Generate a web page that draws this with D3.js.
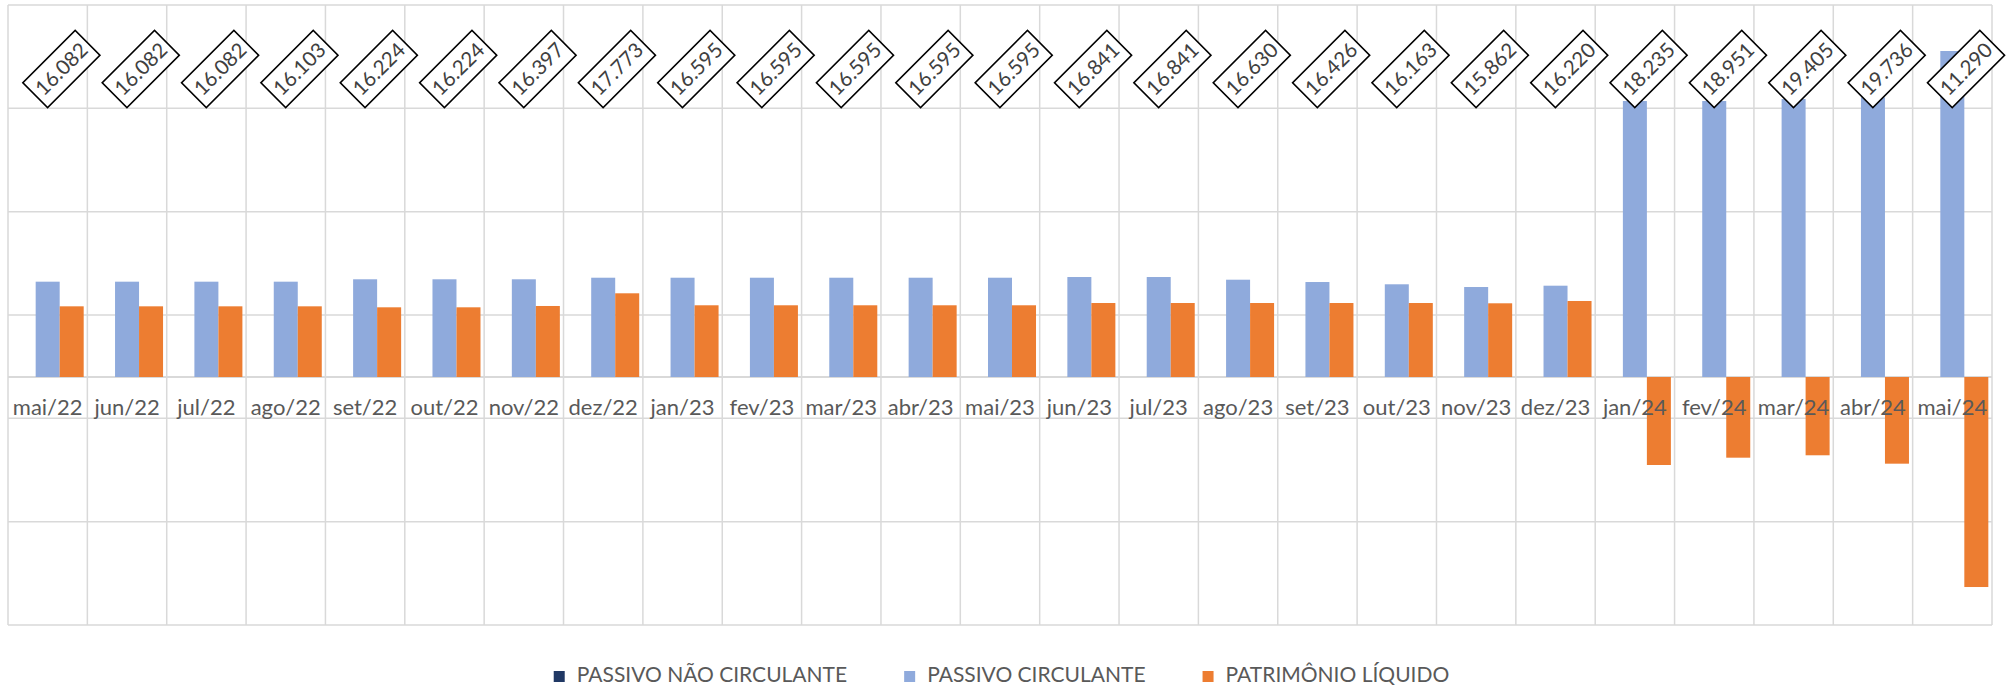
<!DOCTYPE html>
<html><head><meta charset="utf-8">
<script src="https://cdn.jsdelivr.net/npm/d3@7"></script>
<style>html,body{margin:0;padding:0;background:#fff;overflow:hidden}</style>
</head><body><svg id="c" width="2006" height="693"></svg>
<script>
const categories = ["mai/22","jun/22","jul/22","ago/22","set/22","out/22","nov/22","dez/22",
  "jan/23","fev/23","mar/23","abr/23","mai/23","jun/23","jul/23","ago/23","set/23","out/23","nov/23","dez/23",
  "jan/24","fev/24","mar/24","abr/24","mai/24"];
const seriesNames = ["PASSIVO NÃO CIRCULANTE","PASSIVO CIRCULANTE","PATRIMÔNIO LÍQUIDO"];
const seriesColors = ["#203864","#8FAADC","#ED7D31"];
const passivoNaoCirculante = [16082,16082,16082,16103,16224,16224,16397,17773,
  16595,16595,16595,16595,16595,16841,16841,16630,16426,16163,15862,16220,
  18235,18951,19405,19736,11290];
const passivoCirculante = [2306,2306,2306,2306,2364,2364,2364,2402,
  2402,2402,2402,2402,2402,2419,2419,2354,2298,2243,2177,2209,
  6677,6677,6726,6767,7887];
const patrimonioLiquido = [1710,1710,1710,1710,1686,1686,1718,2025,
  1735,1735,1735,1735,1735,1790,1790,1790,1790,1790,1783,1839,
  -2129,-1952,-1894,-2097,-5081];
const gridTicks = [-10000,-5000,0,5000,10000,15000,20000];

const W = 2006, H = 693;
const plot = {left: 8, right: 1992, top: 5, bottom: 625};
const FONT = "Lato, 'Open Sans', sans-serif";
const TEXT = "#595959", GRID = "#d9d9d9";

const svg = d3.select("#c");
svg.append("rect").attr("width", W).attr("height", H).attr("fill", "#fff");

const x = d3.scaleBand().domain(categories).range([plot.left, plot.right]).padding(0);
const xs = d3.scaleBand().domain(seriesNames).range([0, x.bandwidth()]).paddingInner(0).paddingOuter(0.153);
const yGrid = d3.scaleLinear().domain([-10000, 20000]).range([plot.bottom, plot.top]);
const y = d3.scaleLinear().domain([-6000, 9000]).range([plot.bottom, plot.top]);

// horizontal gridlines
svg.append("g").selectAll("line").data(gridTicks).join("line")
  .attr("x1", plot.left).attr("x2", plot.right)
  .attr("y1", d => yGrid(d)).attr("y2", d => yGrid(d))
  .attr("stroke", GRID).attr("stroke-width", 1.5);

// vertical gridlines (category boundaries)
const bounds = categories.map(c => x(c)).concat([plot.right]);
svg.append("g").selectAll("line").data(bounds).join("line")
  .attr("x1", d => d).attr("x2", d => d)
  .attr("y1", plot.top).attr("y2", plot.bottom)
  .attr("stroke", GRID).attr("stroke-width", 1.5);

// category axis line
svg.append("line").attr("x1", plot.left).attr("x2", plot.right)
  .attr("y1", y(0)).attr("y2", y(0)).attr("stroke", GRID).attr("stroke-width", 2);

// bars
const barSeries = [
  {name: seriesNames[1], color: seriesColors[1], values: passivoCirculante},
  {name: seriesNames[2], color: seriesColors[2], values: patrimonioLiquido}
];
barSeries.forEach(s => {
  svg.append("g").selectAll("rect").data(s.values).join("rect")
    .attr("x", (d, i) => x(categories[i]) + xs(s.name))
    .attr("width", xs.bandwidth())
    .attr("y", d => Math.min(y(d), y(0)))
    .attr("height", d => Math.abs(y(d) - y(0)))
    .attr("fill", s.color);
});

// category labels
svg.append("g").selectAll("text").data(categories).join("text")
  .attr("x", d => x(d) + x.bandwidth() / 2)
  .attr("y", y(0) + 38)
  .attr("text-anchor", "middle")
  .attr("font-family", FONT).attr("font-size", 22).attr("fill", TEXT)
  .text(d => d);

// data labels of PASSIVO NÃO CIRCULANTE
const br = d3.formatLocale({decimal: ",", thousands: ".", grouping: [3], currency: ["R$", ""]});
const fmt = br.format(",d");
const lab = svg.append("g").selectAll("g").data(passivoNaoCirculante).join("g")
  .attr("transform", (d, i) => `translate(${x(categories[i]) + x.bandwidth() / 2 + 13.7},69) rotate(-45)`);
lab.append("rect").attr("x", -37).attr("y", -17.5).attr("width", 74).attr("height", 35)
  .attr("fill", "#fff").attr("stroke", "#000").attr("stroke-width", 1.6);
lab.append("text").attr("text-anchor", "middle").attr("dy", "0.35em")
  .attr("font-family", FONT).attr("font-size", 20.5).attr("fill", "#404040")
  .text(d => fmt(d));

// legend
const leg = svg.append("g");
const items = seriesNames.map((n, i) => {
  const g = leg.append("g");
  g.append("rect").attr("width", 11).attr("height", 11).attr("y", -11).attr("fill", seriesColors[i]);
  const t = g.append("text").attr("x", 23).attr("y", 0).attr("font-family", FONT)
    .attr("font-size", 21).attr("fill", TEXT).text(n);
  return {g, w: 23 + t.node().getComputedTextLength()};
});
const gap = 57;
const total = d3.sum(items, d => d.w) + gap * (items.length - 1);
let cx = 1001.5 - total / 2;
items.forEach(it => { it.g.attr("transform", `translate(${cx},682)`); cx += it.w + gap; });
</script>
</body></html>
